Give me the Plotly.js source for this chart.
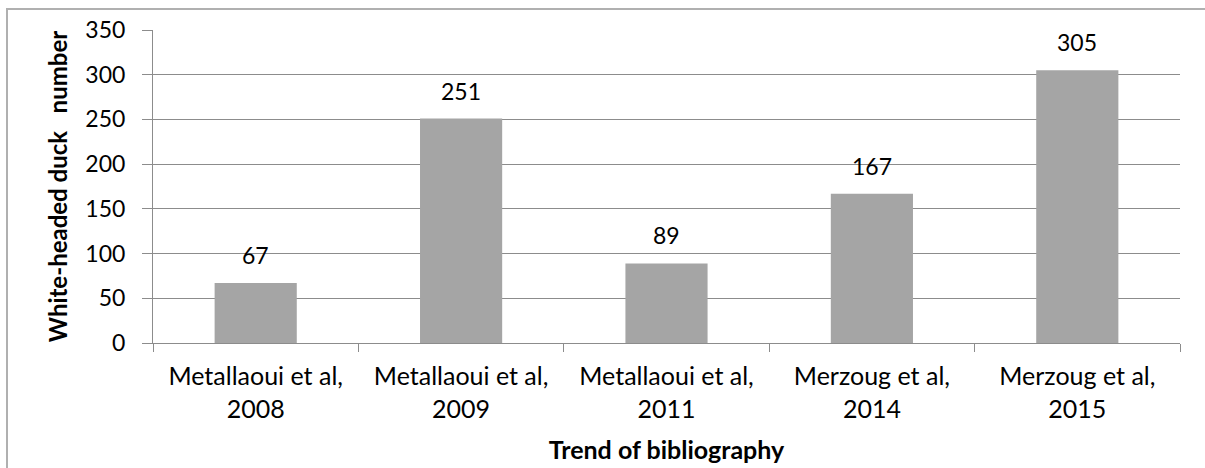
<!DOCTYPE html>
<html>
<head>
<meta charset="utf-8">
<script src="https://cdn.plot.ly/plotly-3.0.1.min.js"></script>
<style>
  html, body { margin: 0; padding: 0; background: #ffffff; overflow: hidden; }
  #wrap { position: relative; width: 1205px; height: 468px; overflow: hidden; }
  #chart { position: absolute; left: 0; top: 0; width: 1205px; height: 468px; }
  #frame { position: absolute; left: 6px; top: 8px; width: 1240px; height: 500px;
           border: 2px solid #b0b0b0; pointer-events: none; box-sizing: border-box; }
</style>
</head>
<body>
<div id="wrap">
  <div id="chart"></div>
  <div id="frame"></div>
</div>
<script>
const authors = ["Metallaoui et al,", "Metallaoui et al,", "Metallaoui et al,", "Merzoug et al,", "Merzoug et al,"];
const years = ["2008", "2009", "2011", "2014", "2015"];
const counts = [67, 251, 89, 167, 305];
const yTicks = [0, 50, 100, 150, 200, 250, 300, 350];

const categories = authors.map((a, i) => a + "<br>" + years[i]);

const FONT = "Lato, 'Open Sans', sans-serif";

const trace = {
  type: "bar",
  x: categories,
  y: counts,
  marker: { color: "#a5a5a5", line: { width: 0 } },
  hoverinfo: "x+y"
};

const annotations = categories.map((c, i) => ({
  x: c, y: counts[i], xref: "x", yref: "y",
  text: String(counts[i]), showarrow: false,
  yanchor: "bottom", yshift: 12,
  font: { family: FONT, size: 23, color: "#000000" }
}));

const layout = {
  width: 1205, height: 468,
  margin: { l: 153, r: 25, t: 30, b: 125 },
  paper_bgcolor: "rgba(0,0,0,0)",
  plot_bgcolor: "rgba(0,0,0,0)",
  showlegend: false,
  bargap: 0.6,
  font: { family: FONT, size: 23, color: "#000000" },
  xaxis: {
    type: "category",
    tickson: "boundaries",
    ticks: "outside", ticklen: 8, tickcolor: "#8c8c8c", tickwidth: 1,
    ticklabelstandoff: 11,
    showline: true, linecolor: "#8c8c8c", linewidth: 1,
    showgrid: false, zeroline: false,
    tickfont: { family: FONT, size: 25, color: "#000000" },
    automargin: false,
    title: { text: "<b>Trend of bibliography</b>", font: { family: FONT, size: 25, color: "#000000" }, standoff: 19 }
  },
  yaxis: {
    range: [0, 350],
    tickvals: yTicks,
    ticks: "outside", ticklen: 10, tickcolor: "#8c8c8c", tickwidth: 1,
    ticklabelstandoff: 12,
    showline: true, linecolor: "#8c8c8c", linewidth: 1,
    showgrid: true, gridcolor: "#8c8c8c", gridwidth: 1,
    zeroline: false,
    tickfont: { family: FONT, size: 23, color: "#000000" },
    automargin: false,
    title: { text: "<b>White-headed duck\u00a0\u00a0\u00a0number</b>", font: { family: FONT, size: 24, color: "#000000" }, standoff: 10 }
  },
  annotations: annotations
};

Plotly.newPlot("chart", [trace], layout, { displayModeBar: false, staticPlot: true });
</script>
</body>
</html>
